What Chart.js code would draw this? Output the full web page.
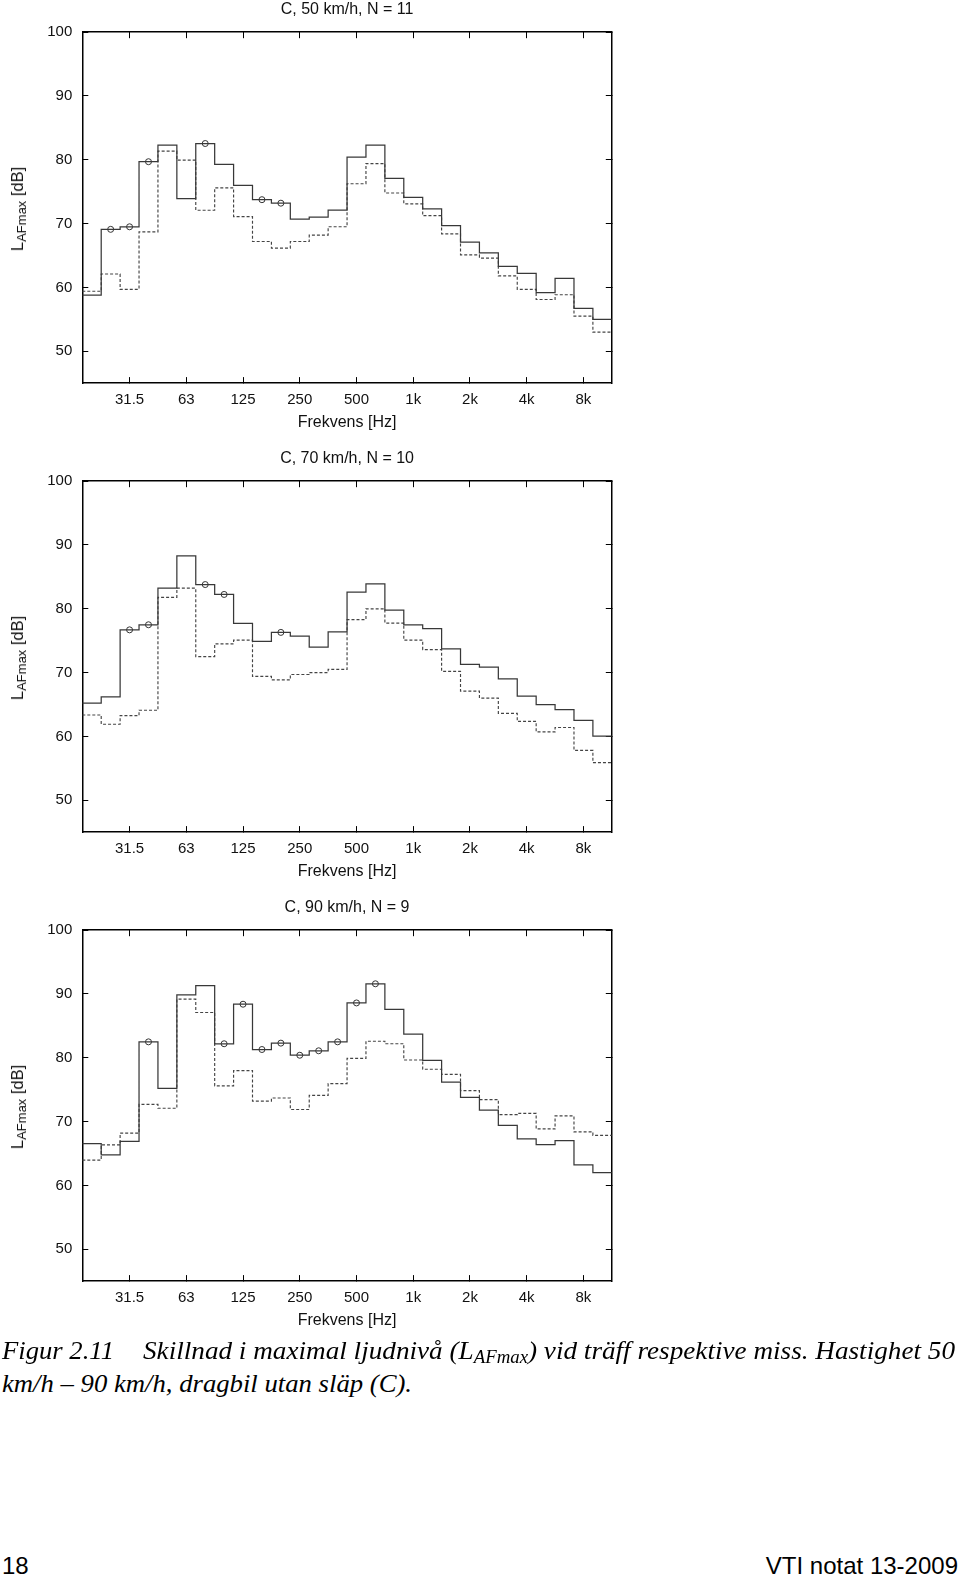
<!DOCTYPE html>
<html><head><meta charset="utf-8">
<script src="https://cdn.jsdelivr.net/npm/chart.js@4/dist/chart.umd.min.js"></script>
<style>
html,body{margin:0;padding:0;background:#fff;}
body{width:960px;height:1578px;position:relative;overflow:hidden;font-family:"Liberation Sans",Arial,sans-serif;color:#111;}
canvas{position:absolute;left:0;}
.ylab{position:absolute;left:17px;font-size:16.5px;line-height:18px;white-space:nowrap;transform:translate(-50%,-50%) rotate(-90deg);color:#111;}
.ylab sub{font-size:13px;vertical-align:-3px;line-height:0;}
.cap{position:absolute;font-family:"Liberation Serif","Times New Roman",serif;font-style:italic;font-size:26px;line-height:32px;white-space:nowrap;transform-origin:0 0;color:#000;}
.cap sub{font-size:18px;vertical-align:-4px;line-height:0;}
.foot{position:absolute;font-size:24px;line-height:28px;white-space:nowrap;color:#000;}
</style>
</head><body>
<script>
// ---- data ----
const bands = ['20','25','31.5','40','50','63','80','100','125','160','200','250','315','400','500','630','800','1k','1.25k','1.6k','2k','2.5k','3.15k','4k','5k','6.3k','8k','10k'];
const tickLabels = ['31.5','63','125','250','500','1k','2k','4k','8k'];
const yTicks = [50,60,70,80,90,100];
const titles = ['C, 50 km/h, N = 11','C, 70 km/h, N = 10','C, 90 km/h, N = 9'];

const solid50  = [58.8,69.1,69.5,79.7,82.3,73.9,82.55,79.3,76.0,73.75,73.2,70.7,71.0,72.1,80.4,82.3,77.1,74.1,72.3,69.7,67.1,65.4,63.3,62.2,59.2,61.4,56.7,55.0];
const dashed50 = [59.4,62.1,59.7,68.7,81.35,79.95,72.1,75.6,71.1,67.2,66.15,67.2,68.2,69.5,76.25,79.4,74.8,73.1,71.25,68.4,65.1,64.6,61.8,59.7,58.1,58.85,55.5,53.0];
const marks50  = [1,2,3,6,9,10];

const solid70  = [65.2,66.2,76.7,77.5,83.25,88.3,83.8,82.25,77.7,74.9,76.3,75.7,74.0,76.4,82.6,83.9,79.8,77.5,76.9,73.7,71.3,70.85,69.0,66.3,65.0,64.2,62.5,60.05];
const dashed70 = [63.35,61.9,63.25,64.1,81.8,83.25,72.5,74.5,75.1,69.4,68.85,69.7,70.0,70.5,78.3,80.0,77.75,75.1,73.6,70.2,67.1,66.0,63.6,62.35,60.7,61.4,57.8,55.9];
const marks70  = [2,3,6,7,10];

const solid90  = [66.55,64.8,66.9,82.5,75.2,89.85,91.3,82.2,88.4,81.3,82.3,80.4,81.1,82.5,88.6,91.6,87.6,83.7,79.6,76.2,73.8,71.8,69.4,67.3,66.4,67.0,63.2,62.0];
const dashed90 = [63.95,66.35,68.2,72.7,72.1,89.2,87.1,75.6,78.0,73.2,73.7,71.9,74.1,75.95,79.9,82.6,82.2,79.65,78.2,77.4,74.85,73.45,71.1,71.3,68.85,70.9,68.4,67.85];
const marks90  = [3,7,8,9,10,11,12,13,14,15];

const panels = [
  {title: titles[0], solid: solid50, dashed: dashed50, marks: marks50},
  {title: titles[1], solid: solid70, dashed: dashed70, marks: marks70},
  {title: titles[2], solid: solid90, dashed: dashed90, marks: marks90}
];

// ---- helpers ----
function steps(vals){
  const pts = vals.map((v,i)=>({x:i-0.5,y:v}));
  pts.push({x:vals.length-0.5,y:vals[vals.length-1]});
  return pts;
}
const xTickIdx = tickLabels.map(l => bands.indexOf(l));
const FONT = {family:'"Liberation Sans", Arial, sans-serif', size:15, weight:'normal'};
const FONT16 = {family:'"Liberation Sans", Arial, sans-serif', size:16, weight:'normal'};
const gridOpt = {drawOnChartArea:false, drawTicks:true, tickLength:-6, color:'#000', lineWidth:1};
const borderOpt = {display:true, color:'#000', width:1.5};
const setXTicks = s => { s.ticks = xTickIdx.map(v=>({value:v})); };
const setYTicks = s => { s.ticks = yTicks.map(v=>({value:v})); };

const CH = 449;
panels.forEach((p,k) => {
  const cv = document.createElement('canvas');
  cv.width = 640; cv.height = CH;
  cv.style.width = '640px'; cv.style.height = CH+'px';
  cv.style.top = (k*CH)+'px';
  document.body.appendChild(cv);

  const yl = document.createElement('div');
  yl.className = 'ylab';
  yl.style.top = (k*CH + 209)+'px';
  yl.innerHTML = 'L<sub>AFmax</sub> [dB]';
  document.body.appendChild(yl);

  new Chart(cv, {
    type:'line',
    data:{datasets:[
      {data:steps(p.solid), stepped:true, borderColor:'#383838', borderWidth:1.25, pointRadius:0, fill:false},
      {data:steps(p.dashed), stepped:true, borderColor:'#444', borderWidth:1.15, borderDash:[3,2], pointRadius:0, fill:false},
      {data:p.marks.map(i=>({x:i,y:p.solid[i]})), showLine:false, pointRadius:3, pointHoverRadius:3, pointStyle:'circle',
       pointBorderColor:'#333', pointBackgroundColor:'rgba(0,0,0,0)', pointBorderWidth:1}
    ]},
    options:{
      responsive:false, animation:false, devicePixelRatio:1,
      events:[],
      layout:{padding:{left:0,right:28.2,top:0,bottom:16.7}},
      plugins:{
        legend:{display:false}, tooltip:{enabled:false},
        title:{display:true, text:p.title, fullSize:false, color:'#111', font:FONT16, padding:{top:0,bottom:13.0}}
      },
      scales:{
        x:{type:'linear', position:'bottom', min:-0.5, max:27.5, afterBuildTicks:setXTicks,
           ticks:{autoSkip:false, maxRotation:0, padding:13.4, color:'#111', font:FONT,
                  callback:(v,i)=>tickLabels[i]},
           grid:gridOpt, border:borderOpt,
           title:{display:true, text:'Frekvens [Hz]', color:'#111', font:FONT16, padding:0},
           afterFit:s=>{s.height=49.2;}},
        x2:{type:'linear', position:'top', min:-0.5, max:27.5, afterBuildTicks:setXTicks,
           ticks:{display:false}, grid:gridOpt, border:borderOpt, afterFit:s=>{s.height=0;}},
        y:{type:'linear', position:'left', min:45, max:100, afterBuildTicks:setYTicks,
           ticks:{padding:16, color:'#111', font:FONT},
           grid:gridOpt, border:borderOpt, afterFit:s=>{s.width=82.3;}},
        y2:{type:'linear', position:'right', min:45, max:100, afterBuildTicks:setYTicks,
           ticks:{display:false}, grid:gridOpt, border:borderOpt, afterFit:s=>{s.width=0;}}
      }
    }
  });
});
</script>
<div class="cap" id="c1" style="left:2px;top:1335px;">Figur 2.11</div>
<div class="cap" id="c2" style="left:143px;top:1335px;">Skillnad i maximal ljudnivå (L<sub>AFmax</sub>) vid träff respektive miss. Hastighet 50</div>
<div class="cap" id="c3" style="left:2px;top:1368px;">km/h – 90 km/h, dragbil utan släp (C).</div>
<div class="foot" style="left:2px;top:1552px;">18</div>
<div class="foot" id="f2" style="right:2px;top:1552px;">VTI notat 13-2009</div>
<script>
function fit(id,w){const el=document.getElementById(id);const n=el.getBoundingClientRect().width;el.style.transform='scaleX('+(w/n)+')';}
fit('c1',112); fit('c2',812); fit('c3',410);
</script>
</body></html>
